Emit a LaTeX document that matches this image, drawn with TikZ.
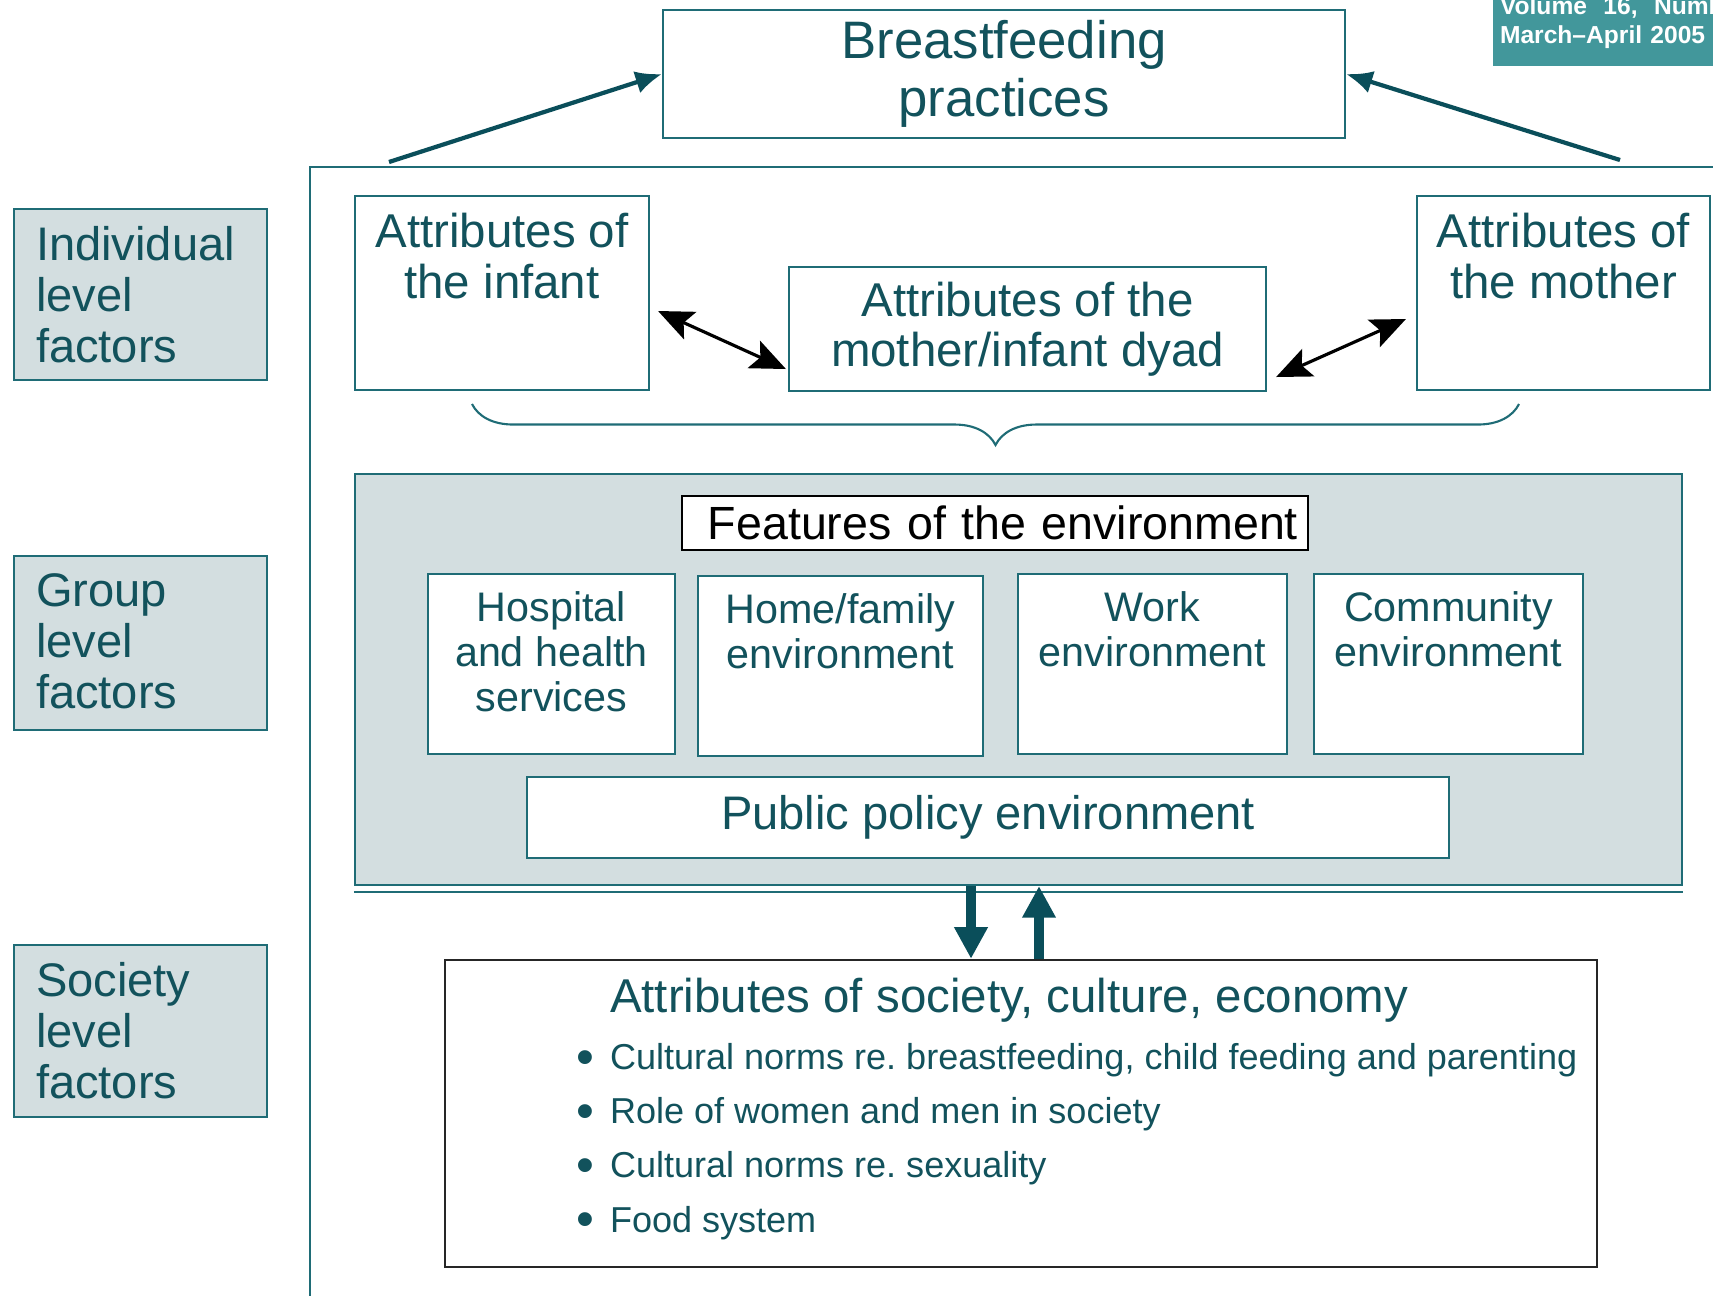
\documentclass[tikz,border=0pt]{standalone}
\usepackage{fontspec}
\setmainfont{Liberation Sans}
\usepackage{tikz}
\usetikzlibrary{positioning,arrows.meta,decorations.pathreplacing}
\definecolor{tealline}{RGB}{31,108,118}
\definecolor{tealtext}{RGB}{18,82,92}
\definecolor{tealarrow}{RGB}{10,78,90}
\definecolor{greyfill}{RGB}{211,222,224}
\definecolor{badgefill}{RGB}{66,151,155}
\newcommand{\fsz}[2]{\fontsize{#1}{#2}\selectfont}
\newcommand{\topc}[3]{\parbox[c][#2][t]{#1}{\centering\vspace*{5pt}#3}}
\newcommand{\topl}[3]{\parbox[c][#2][t]{#1}{\raggedright\vspace*{5pt}#3}}
\newcommand{\bul}{\makebox[0.34cm][l]{\raisebox{-1.3pt}{\fsz{14.5}{14}\textbullet}}}

\begin{document}
\begin{tikzpicture}[every node/.style={text=tealtext, inner sep=0pt},
		tbox/.style={draw=tealline, line width=0.6pt, fill=white},
		gbox/.style={draw=tealline, line width=0.6pt, fill=greyfill},
		tarrow/.style={draw=tealarrow, line width=1.2pt, -{Latex[length=7.5pt,width=6.5pt]}},
		dblarrow/.style={draw=black, line width=0.9pt, {Stealth[length=10pt,width=8.5pt,inset=2pt]}-{Stealth[length=10pt,width=8.5pt,inset=2pt]}},
		bigarrow/.style={draw=tealarrow, line width=3.1pt, -{Triangle[length=9pt,width=9pt]}}]
		\useasboundingbox (0,0) rectangle (17.13,-12.95);
		\clip (0,0) rectangle (17.13,-12.95);
		\node[tbox, minimum width=6.82cm, minimum height=1.28cm, align=center, font=\fsz{15}{16.5}] (bfp) at (10.04,-0.74) {\raisebox{-3pt}{Breastfeeding}\\\raisebox{-3pt}{practices}};
		\node[fill=badgefill, text=white, minimum width=3cm, minimum height=0.86cm, text width=2.86cm, inner xsep=0.07cm, align=left, font=\fsz{7}{8.3}\bfseries] (issue) at (16.43,-0.23) {Volume\ \ 16,\ \ Number\\March--April 2005};
		%
		\draw[tealline, line width=0.6pt] (17.2,-1.67) -- (3.10,-1.67) -- (3.10,-13.0);
		%
		\node[gbox, inner xsep=0.22cm] (indiv) at (1.405,-2.945) {\fsz{13.4}{14.5}\topl{2.09cm}{1.71cm}{Individual\\level\\factors}};
		\node[gbox, inner xsep=0.22cm] (group) at (1.405,-6.43) {\fsz{13.4}{14.5}\topl{2.09cm}{1.74cm}{Group\\level\\factors}};
		\node[gbox, inner xsep=0.22cm] (soclev) at (1.405,-10.31) {\fsz{13.4}{14.5}\topl{2.09cm}{1.72cm}{Society\\level\\factors}};
		%
		\node[tbox] (infant) at (5.02,-2.93) {\fsz{13.5}{14.3}\topc{2.94cm}{1.94cm}{Attributes of\\the infant}};
		\node[tbox] (mother) at (15.635,-2.93) {\fsz{13.5}{14.3}\topc{2.93cm}{1.94cm}{Attributes of\\the mother}};
		\node[tbox, minimum width=4.77cm, minimum height=1.24cm, align=center, font=\fsz{13.5}{14.3}] (dyad) at (10.275,-3.29) {Attributes of the\\mother/infant dyad};
		\coordinate (bl) at (4.72,-4.04);
		\coordinate (br) at (15.19,-4.04);
		\draw[tealline, line width=0.6pt, decorate, decoration={brace, mirror, amplitude=0.41cm}] (bl) -- (br);
		%
		\node[gbox, minimum width=13.27cm, minimum height=4.11cm] (env) at (10.185,-6.795) {};
		\draw[tealline, line width=0.6pt] ([yshift=-0.06cm]env.south west) -- ([yshift=-0.06cm]env.south east);
		\node[draw=black, line width=0.8pt, fill=white, text=black, minimum height=0.54cm, text width=6.06cm, inner xsep=0.10cm, align=right, font=\fsz{13.25}{14}] (feat) at (9.95,-5.23) {Features of the environment};
		\node[tbox] (hosp) at (5.515,-6.64) {\fsz{11.75}{12.8}\topc{2.47cm}{1.80cm}{Hospital\\and health\\services}};
		\node[tbox] (home) at (8.405,-6.66) {\fsz{11.75}{12.8}\topc{2.85cm}{1.80cm}{Home/family\\environment}};
		\node[tbox] (work) at (11.525,-6.64) {\fsz{11.75}{12.8}\topc{2.69cm}{1.80cm}{Work\\environment}};
		\node[tbox] (comm) at (14.485,-6.64) {\fsz{11.75}{12.8}\topc{2.69cm}{1.80cm}{Community\\environment}};
		\node[tbox, minimum width=9.22cm, minimum height=0.81cm, font=\fsz{13.4}{14}] (policy) at (9.88,-8.175) {Public policy environment};
		%
		\node[draw=black!85, line width=0.7pt, fill=white] (society) at (10.21,-11.135) {\parbox[c][3.07cm][t]{11.52cm}{\raggedright\vspace*{5.2pt}%
			{\fsz{13.5}{14}\hspace*{1.65cm}Attributes of society, culture, economy\par}
			{\fsz{10.25}{16.2}\hspace*{1.31cm}\bul Cultural norms re.\ breastfeeding, child feeding and parenting\par}
			{\fsz{10.25}{15.4}\hspace*{1.31cm}\bul Role of women and men in society\par
			\hspace*{1.31cm}\bul Cultural norms re.\ sexuality\par
			\hspace*{1.31cm}\bul Food system\par}}};
		%
		\coordinate (lft) at (3.89,-1.62);
		\coordinate (rgt) at (16.20,-1.60);
		\coordinate (dn) at (9.71,-9.2);
		\coordinate (up) at (10.39,-9.2);
		%
		\path
			%Arrows to the practices
			(lft) edge[tarrow] (bfp.west)
			(rgt) edge[tarrow] (bfp.east)
			%Individual level
			([shift={(0.08,-0.18)}]infant.east) edge[dblarrow] ([shift={(-0.02,-0.40)}]dyad.west)
			([shift={(0.09,-0.48)}]dyad.east) edge[dblarrow] ([shift={(-0.10,-0.26)}]mother.west)
			%Society and environment
			(dn |- env.south) edge[bigarrow] (dn |- society.north)
			(up |- society.north) edge[bigarrow] (up |- env.south)
		;
	\end{tikzpicture}
\end{document}
